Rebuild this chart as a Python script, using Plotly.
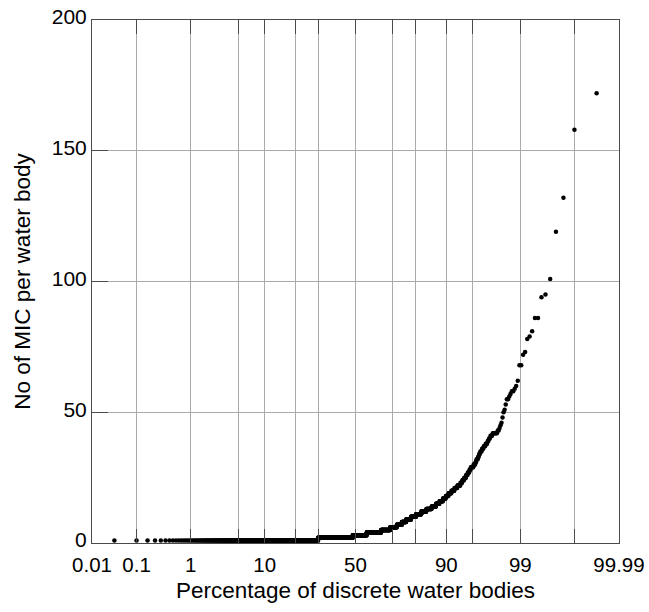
import plotly.graph_objects as go
from statistics import NormalDist

# MIC count per water body and how many water bodies share that count
mic_values = [1, 2, 3, 4, 5, 6, 7, 8, 9, 10, 11, 12, 13, 14, 15, 16, 17, 18, 19, 20,
              21, 22, 23, 24, 25, 26, 27, 28, 29, 30, 31, 32, 33, 34, 35, 36, 37, 38, 39, 40,
              41, 42, 43, 44, 45, 46, 48, 50, 51, 53, 55, 56, 57, 58, 59, 60, 62, 68, 72, 73,
              78, 79, 81, 86, 94, 95, 101, 119, 132, 158, 172]
body_counts = [448, 278, 118, 117, 71, 48, 35, 29, 31, 30, 30, 27, 26, 20, 15, 14, 11, 10, 10, 10,
               9, 9, 5, 5, 5, 4, 4, 3, 6, 4, 2, 3, 2, 2, 3, 3, 3, 3, 2, 2,
               3, 6, 2, 1, 1, 1, 1, 1, 1, 1, 2, 1, 1, 2, 1, 1, 1, 2, 1, 1,
               1, 1, 1, 2, 1, 1, 1, 1, 1, 1, 1]

# Probability-axis ticks (percent)
grid_percents = [0.01, 0.1, 1, 5, 10, 20, 30, 50, 70, 80, 90, 95, 99, 99.9, 99.99]
grid_labels = ["0.01", "0.1", "1", "", "10", "", "", "50", "", "", "90", "", "99", "", "99.99"]
y_ticks = [0, 50, 100, 150, 200]

nd = NormalDist()

# Sorted sample and Hazen plotting positions on a normal-probability scale
sample = []
for v, c in zip(mic_values, body_counts):
    sample.extend([v] * c)
sample.sort()
n = len(sample)
zpos = [nd.inv_cdf((i - 0.5) / n) for i in range(1, n + 1)]

tick_z = [nd.inv_cdf(p / 100.0) for p in grid_percents]
z_lo, z_hi = nd.inv_cdf(0.0001), nd.inv_cdf(0.9999)

fig = go.Figure()
fig.add_trace(go.Scatter(
    x=zpos, y=sample, mode="markers",
    marker=dict(color="black", size=4.5, line=dict(width=0)),
    hoverinfo="skip", showlegend=False,
))

font_family = "Liberation Sans, Arial, sans-serif"
frame = "#4a4a4a"
grid = "#aaaaaa"

fig.update_layout(
    width=649, height=612,
    margin=dict(l=92, r=30, t=20, b=69, autoexpand=False),
    paper_bgcolor="white", plot_bgcolor="white",
    font=dict(family=font_family, size=21, color="black"),
    xaxis=dict(
        range=[z_lo, z_hi], tickmode="array", tickvals=tick_z, ticktext=grid_labels,
        showgrid=True, gridcolor=grid, gridwidth=1, zeroline=False,
        showline=True, linecolor=frame, linewidth=1, mirror="ticks",
        ticks="inside", ticklen=14, tickcolor=frame, tickwidth=1,
        tickfont=dict(size=20.5), ticklabelstandoff=3, automargin=False,
        title=dict(text="Percentage of discrete water bodies", font=dict(size=22.5), standoff=7),
    ),
    yaxis=dict(
        range=[0, 200], tickmode="array", tickvals=y_ticks,
        showgrid=True, gridcolor=grid, gridwidth=1, zeroline=False,
        showline=True, linecolor=frame, linewidth=1, mirror=True,
        ticks="inside", ticklen=16, tickcolor=frame, tickwidth=1,
        tickfont=dict(size=21), ticklabelshift=-3, automargin=False,
        title=dict(text="No of MIC per water body", font=dict(size=22.5), standoff=14),
    ),
)

fig.write_html("out.html")
